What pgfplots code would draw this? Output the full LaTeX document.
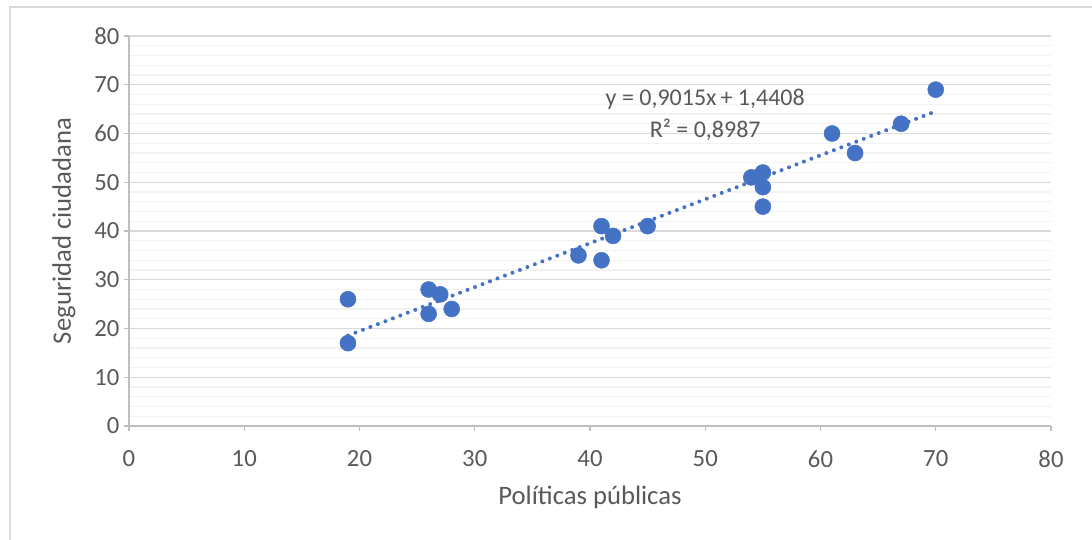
\documentclass[border=0pt]{standalone}
\usepackage{pgfplots}
\pgfplotsset{compat=1.18}
\usepackage{fontspec}
\setmainfont{Carlito}
\definecolor{txt}{HTML}{595959}
\definecolor{majg}{HTML}{D9D9D9}
\definecolor{ming}{HTML}{F2F2F2}
\definecolor{axl}{HTML}{BFBFBF}
\definecolor{pt}{HTML}{4472C4}
\begin{document}
\begin{tikzpicture}
\useasboundingbox (-96.75pt,-84.75pt) rectangle (722.25pt,319.5pt);
\draw[majg, line width=1pt] (-89.25pt,-90pt) -- (-89.25pt,314.25pt) -- (730pt,314.25pt);
\begin{axis}[
  at={(0pt,0pt)}, anchor=south west,
  scale only axis, width=691.5pt, height=292.5pt,
  xmin=0, xmax=80, ymin=0, ymax=80,
  xtick distance=10, ytick distance=10,
  minor y tick num=4,
  axis lines*=left,
  axis line style={axl, line width=1pt},
  ymajorgrids, yminorgrids,
  major grid style={majg, line width=1pt},
  minor grid style={ming, line width=1pt},
  tick style={axl, line width=1pt},
  major tick length=3.75pt, minor tick length=0pt,
  tick align=outside,
  x tick label style={yshift=-11pt},
  y tick label style={xshift=0pt},
  ticklabel style={font=\fontsize{18.5}{22}\selectfont, text=txt},
  /pgf/number format/assume math mode=true,
  xlabel={Políticas públicas},
  ylabel={Seguridad ciudadana},
  label style={font=\fontsize{20}{24}\selectfont, text=txt},
  xlabel style={at={(axis description cs:0.5,-0.184)}, anchor=center},
  ylabel style={at={(axis description cs:-0.0705,0.5)}, anchor=center},
  clip=false,
]
\addplot[only marks, mark=*, mark size=6pt, mark options={fill=pt, draw=pt}] coordinates {
(19,26) (19,17) (26,28) (26,23) (27,27) (28,24) (39,35) (41,41) (41,34) (42,39)
(45,41) (54,51) (55,52) (55,49) (55,45) (61,60) (63,56) (67,62) (70,69)
};
\addplot[pt, line width=3pt, line cap=round, dash pattern=on 0pt off 6pt] coordinates {
(19,18.569) (70,64.546)
};
\node[font=\fontsize{18}{24}\selectfont, text=txt, align=center, anchor=center] at (axis cs:50.0,63.8) {y = 0,9015x\,+ 1,4408\\R² = 0,8987};
\end{axis}
\end{tikzpicture}
\end{document}
